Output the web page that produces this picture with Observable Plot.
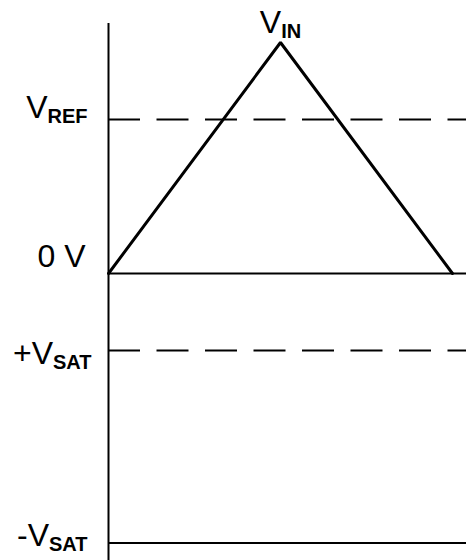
<!DOCTYPE html>
<html>
<head>
<meta charset="utf-8">
<script src="https://cdn.jsdelivr.net/npm/d3@7"></script>
<script src="https://cdn.jsdelivr.net/npm/@observablehq/plot@0.6"></script>
<style>
  html, body { margin: 0; padding: 0; background: #fff; }
</style>
</head>
<body>
<div id="chart"></div>
<script>
// Input waveform (triangle) V_IN
const vinX = [0, 1, 2];
const vinY = [0, 1.5, 0];

// Horizontal reference levels
const solidLevels = [0, -1.75];    // 0 V, -V_SAT
const dashedLevels = [1, -0.5];    // V_REF, +V_SAT

// Level labels ("_" marks the start of a subscript)
const labelNames = ["V_REF", "0 V", "+V_SAT", "-V_SAT"];
const labelValues = [1, 0, -0.5, -1.75];
const peakLabel = "V_IN";

const vin = vinX.map((x, i) => ({x, y: vinY[i]}));
const lab = labelNames.map((name, i) => ({name, y: labelValues[i]}));

const font = "Liberation Sans, Arial, Helvetica, sans-serif";
const labelOpts = {x: () => 0, y: "y", text: "name", textAnchor: "end", lineAnchor: "bottom",
  fontSize: 32, fontFamily: font, fill: "#000"};

const chart = Plot.plot({
  width: 466,
  height: 560,
  marginTop: 23,
  marginBottom: 0,
  marginLeft: 108,
  marginRight: 0,
  x: {domain: [0, 2.0814], axis: null},
  y: {domain: [-1.8636, 1.6234], axis: null},
  marks: [
    Plot.ruleY(dashedLevels, {stroke: "#000", strokeWidth: 2, strokeDasharray: "32,16.5"}),
    Plot.ruleY(solidLevels, {stroke: "#000", strokeWidth: 2}),
    Plot.ruleX([0], {stroke: "#000", strokeWidth: 2}),
    Plot.line(vin, {x: "x", y: "y", stroke: "#000", strokeWidth: 3, strokeLinejoin: "miter"}),
    Plot.text([lab[0]], {...labelOpts, dx: -21, dy: -2}),
    Plot.text([lab[1]], {...labelOpts, dx: -23, dy: -7}),
    Plot.text([lab[2]], {...labelOpts, dx: -17, dy: 13}),
    Plot.text([lab[3]], {...labelOpts, dx: -21, dy: 3}),
    Plot.text([{name: peakLabel, x: vinX[1], y: vinY[1]}],
      {x: "x", y: "y", text: "name", textAnchor: "middle", lineAnchor: "bottom",
       dy: -10, dx: 0, fontSize: 32, fontFamily: font, fill: "#000"})
  ]
});

// Render subscripts as real text tspans
const ns = "http://www.w3.org/2000/svg";
chart.querySelectorAll("text").forEach(t => {
  const s = t.textContent;
  if (!s.includes("_")) return;
  const [main, sub] = s.split("_");
  while (t.firstChild) t.removeChild(t.firstChild);
  const a = document.createElementNS(ns, "tspan");
  a.textContent = main;
  t.appendChild(a);
  const b = document.createElementNS(ns, "tspan");
  b.setAttribute("dy", "5");
  b.setAttribute("font-size", "20");
  b.setAttribute("font-weight", "bold");
  b.textContent = sub;
  t.appendChild(b);
});

document.getElementById("chart").appendChild(chart);
</script>
</body>
</html>
